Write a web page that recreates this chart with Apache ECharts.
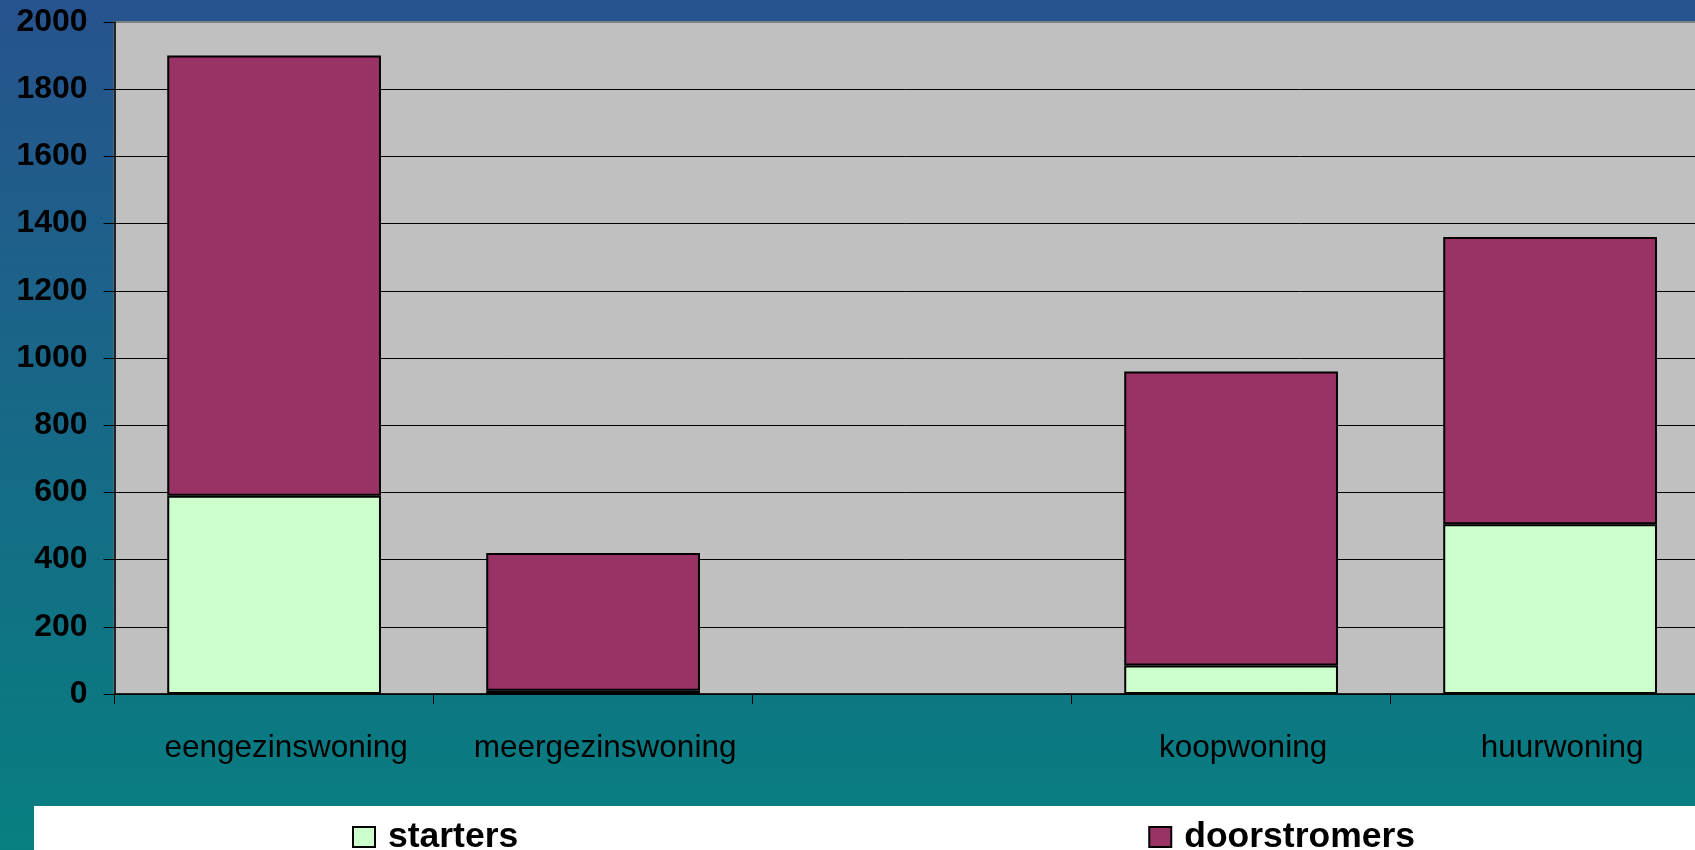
<!DOCTYPE html>
<html>
<head>
<meta charset="utf-8">
<script src="https://cdn.jsdelivr.net/npm/echarts@6/dist/echarts.min.js"></script>
<style>
html,body{margin:0;padding:0;}
#chart{width:1695px;height:850px;}
</style>
</head>
<body>
<div id="chart"></div>
<script>
const categories = ['eengezinswoning', 'meergezinswoning', '', 'koopwoning', 'huurwoning'];
const starters = [590, 10, null, 85, 505];
const doorstromers = [1310, 410, null, 875, 855];
const yTicks = { min: 0, max: 2000, interval: 200 };

const chart = echarts.init(document.getElementById('chart'));
const font = '"Liberation Sans", Arial, sans-serif';
chart.setOption({
  animation: false,
  backgroundColor: {
    type: 'linear', x: 0, y: 0, x2: 0, y2: 1,
    colorStops: [
      { offset: 0, color: '#27538E' },
      { offset: 1, color: '#077F80' }
    ]
  },
  graphic: [{
    type: 'rect', left: 34, top: 806, z: -1,
    shape: { width: 1700, height: 50 },
    style: { fill: '#FFFFFF' }
  }],
  grid: {
    left: 114.6, top: 22, height: 672, width: 1595,
    outerBoundsMode: 'none', containLabel: false,
    show: true, backgroundColor: '#C0C0C0', borderColor: '#808080', borderWidth: 2
  },
  legend: {
    left: 352, top: 819, padding: 0, itemGap: 630, itemWidth: 22, itemHeight: 20,
    icon: 'rect',
    textStyle: { fontFamily: font, fontSize: 35.5, fontWeight: 'bold', color: '#000', padding: [0, 0, 0, 8] },
    itemStyle: { borderColor: '#000', borderWidth: 2 },
    data: ['starters', 'doorstromers']
  },
  xAxis: {
    type: 'category', data: categories, boundaryGap: true,
    axisLine: { lineStyle: { color: '#000', width: 1.5 } },
    axisTick: { show: true, length: 10, lineStyle: { color: '#000' } },
    axisLabel: {
      fontFamily: font, fontSize: 31.5, color: '#000', margin: 38,
      padding: [0, 0, 0, 24], interval: 0
    },
    splitLine: { show: false }
  },
  yAxis: {
    type: 'value', min: yTicks.min, max: yTicks.max, interval: yTicks.interval,
    axisLine: { show: true, lineStyle: { color: '#000', width: 1.5 } },
    axisTick: { show: true, length: 11, lineStyle: { color: '#000' } },
    axisLabel: {
      fontFamily: font, fontSize: 32, fontWeight: 'bold', color: '#000', margin: 27,
      formatter: function (v) { return String(v); }
    },
    splitLine: { show: true, showMaxLine: false, lineStyle: { color: '#000', width: 1 } }
  },
  series: [
    {
      name: 'starters', type: 'bar', stack: 'total', data: starters,
      barCategoryGap: '33%',
      itemStyle: { color: '#CCFFCC', borderColor: '#000', borderWidth: 2 }
    },
    {
      name: 'doorstromers', type: 'bar', stack: 'total', data: doorstromers,
      barCategoryGap: '33%',
      itemStyle: { color: '#993366', borderColor: '#000', borderWidth: 2 }
    }
  ]
});
</script>
</body>
</html>
